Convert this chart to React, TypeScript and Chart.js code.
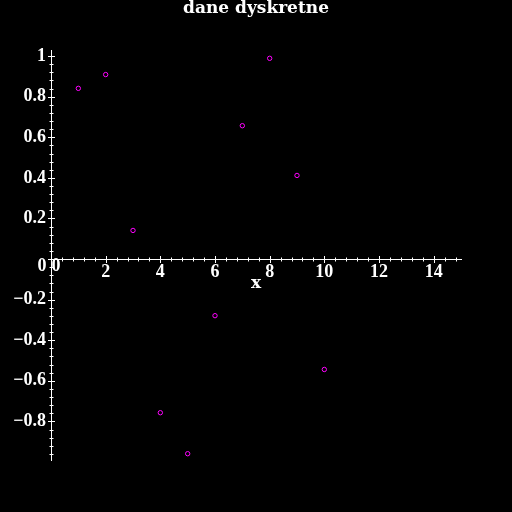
import React, { useEffect, useRef } from 'react';
import { Chart, registerables } from 'chart.js';

Chart.register(...registerables);

const xValues = [1, 2, 3, 4, 5, 6, 7, 8, 9, 10];
const yValues = [0.841, 0.909, 0.141, -0.757, -0.959, -0.279, 0.657, 0.989, 0.412, -0.544];

const xRange = [0, 15];
const yRange = [-0.99, 1.03];

const xMajorTicks = [0, 2, 4, 6, 8, 10, 12, 14];
const xTickLabels = ['0', '2', '4', '6', '8', '10', '12', '14'];
const yMajorTicks = [1, 0.8, 0.6, 0.4, 0.2, 0, -0.2, -0.4, -0.6, -0.8];
const yTickLabels = ['1', '0.8', '0.6', '0.4', '0.2', '0', '\u22120.2', '\u22120.4', '\u22120.6', '\u22120.8'];
const xMinorStep = 0.4;
const yMinorStep = 0.04;

const titleText = 'dane dyskretne';
const xAxisTitle = 'x';

const TICK_FAMILY = '"Liberation Serif", serif';
const TICK_FONT = { family: TICK_FAMILY, size: 18, weight: 'bold' as const, lineHeight: 1 };
const TITLE_FAMILY = '"DejaVu Serif", serif';
const TITLE_FONT = { family: TITLE_FAMILY, size: 17, weight: 'bold' as const, lineHeight: 1 };

const isMajor = (v: number, majors: number[]) => majors.some((m) => Math.abs(m - v) < 1e-6);

const axisTicksPlugin = {
  id: 'axisTicks',
  afterDraw(chart: any) {
    const { ctx } = chart;
    const xs = chart.scales.x;
    const ys = chart.scales.y;
    const x0 = Math.round(xs.getPixelForValue(0)) + 0.5;
    const y0 = Math.round(ys.getPixelForValue(0)) + 0.5;
    ctx.save();
    ctx.strokeStyle = '#ffffff';
    ctx.lineWidth = 1;
    ctx.beginPath();
    for (let k = 0; k * xMinorStep <= xRange[1] + 1e-9; k++) {
      const v = k * xMinorStep;
      const px = Math.round(xs.getPixelForValue(v)) + 0.5;
      const h = isMajor(v, xMajorTicks) ? 3.5 : 2;
      ctx.moveTo(px, y0 - h);
      ctx.lineTo(px, y0 + h);
    }
    for (let k = -100; k <= 100; k++) {
      const v = k * yMinorStep;
      if (v < yRange[0] || v > yRange[1]) continue;
      const py = Math.round(ys.getPixelForValue(v)) + 0.5;
      const h = isMajor(v, yMajorTicks) ? 3.5 : 2;
      ctx.moveTo(x0 - h, py);
      ctx.lineTo(x0 + h, py);
    }
    ctx.stroke();
    // origin labels
    ctx.fillStyle = '#ffffff';
    ctx.font = `bold ${TICK_FONT.size}px ${TICK_FAMILY}`;
    ctx.textBaseline = 'middle';
    ctx.textAlign = 'right';
    ctx.fillText(yTickLabels[yMajorTicks.indexOf(0)], x0 - 5, y0 + 7);
    ctx.textAlign = 'left';
    ctx.fillText(xTickLabels[xMajorTicks.indexOf(0)], x0, y0 + 7);
    ctx.restore();
  },
};

export default function App() {
  const ref = useRef<HTMLCanvasElement | null>(null);
  useEffect(() => {
    if (!ref.current) return;
    const chart = new Chart(ref.current, {
      type: 'scatter',
      data: {
        datasets: [
          {
            data: xValues.map((x, i) => ({ x, y: yValues[i] })),
            borderColor: '#ff00ff',
            backgroundColor: 'rgba(0,0,0,0)',
            pointRadius: 2.2,
            pointHoverRadius: 2.2,
            borderWidth: 1,
            showLine: false,
          },
        ],
      },
      options: {
        animation: false,
        responsive: false,
        events: [],
        layout: { padding: { left: 0, right: 0, top: 0, bottom: 52 } },
        plugins: {
          legend: { display: false },
          tooltip: { enabled: false },
          title: {
            display: true,
            text: titleText,
            color: '#ffffff',
            font: TITLE_FONT,
            padding: { top: 0, bottom: 33 },
          },
        },
        scales: {
          x: {
            type: 'linear',
            min: xRange[0],
            max: xRange[1],
            position: { y: 0 } as any,
            grid: { display: false, drawTicks: false },
            border: { display: true, color: '#ffffff', width: 1 },
            afterBuildTicks: (s: any) => {
              s.ticks = xMajorTicks.map((v) => ({ value: v }));
            },
            afterFit: (s: any) => {
              s.height = 33;
            },
            ticks: {
              autoSkip: false,
              maxRotation: 0,
              color: '#ffffff',
              font: TICK_FONT,
              padding: 4,
              callback: (v: any) => {
                const i = xMajorTicks.indexOf(Number(v));
                return i <= 0 ? '' : xTickLabels[i];
              },
            },
            title: { display: true, text: xAxisTitle, color: '#ffffff', font: TITLE_FONT, padding: 0 },
          },
          y: {
            type: 'linear',
            min: yRange[0],
            max: yRange[1],
            position: 'left',
            grid: { display: false, drawTicks: false },
            border: { display: true, color: '#ffffff', width: 1 },
            afterBuildTicks: (s: any) => {
              s.ticks = yMajorTicks.map((v) => ({ value: v }));
            },
            afterFit: (s: any) => {
              s.width = 51;
            },
            ticks: {
              autoSkip: false,
              color: '#ffffff',
              font: TICK_FONT,
              padding: 5,
              callback: (v: any) => {
                const i = yMajorTicks.indexOf(Number(v));
                return i < 0 || yMajorTicks[i] === 0 ? '' : yTickLabels[i];
              },
            },
          },
          yRight: {
            type: 'linear',
            display: true,
            position: 'right',
            min: yRange[0],
            max: yRange[1],
            grid: { display: false, drawTicks: false },
            border: { display: false },
            ticks: { display: false },
            afterFit: (s: any) => {
              s.width = 51;
            },
          },
        },
      },
      plugins: [axisTicksPlugin],
    });
    return () => chart.destroy();
  }, []);
  return (
    <div style={{ position: 'fixed', left: 0, top: 0, width: 512, height: 512, background: '#000' }}>
      <canvas ref={ref} width={512} height={512} style={{ display: 'block', width: 512, height: 512 }} />
    </div>
  );
}
